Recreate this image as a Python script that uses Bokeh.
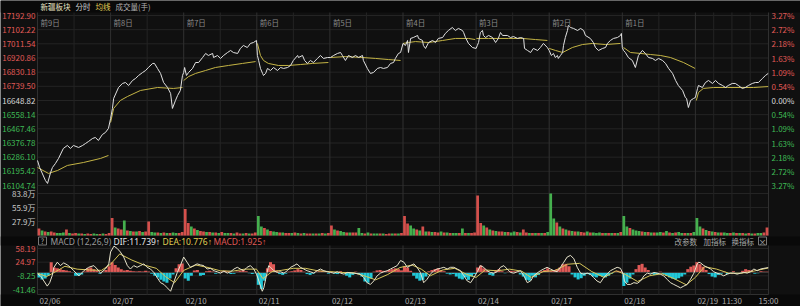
from bokeh.plotting import figure
from bokeh.models import Range1d
from bokeh.core.properties import value
from bokeh.embed import file_html
from bokeh.resources import INLINE

# ---------------- data ----------------
day_dates = ["02/06", "02/07", "02/10", "02/11", "02/12", "02/13", "02/14", "02/17", "02/18", "02/19"]
day_tags = ["前9日", "前8日", "前7日", "前6日", "前5日", "前4日", "前3日", "前2日", "前1日"]
base_price = 16648.82
price_ticks = [17192.90, 17102.22, 17011.54, 16920.86, 16830.18, 16739.50, 16648.82,
               16558.14, 16467.46, 16376.78, 16286.10, 16195.42, 16104.74]
pct_labels = ["3.27%", "2.72%", "2.18%", "1.63%", "1.09%", "0.54%", "0.00%",
              "0.54%", "1.09%", "1.63%", "2.18%", "2.72%", "3.27%"]
vol_ticks = [83.8, 55.9, 27.9]
vol_labels = ["83.8万", "55.9万", "27.9万"]
macd_ticks = [58.19, 24.97, -8.25, -41.46]

# price (minute index over 10 sessions of 240 min)
price_t = [0, 7, 26, 33, 43, 49, 59, 69, 85, 98, 108, 118, 135, 148, 158, 167, 181, 190, 200, 213, 223, 233,
           240, 246, 250, 266, 279, 289, 299, 312, 322, 332, 345, 355, 364, 378, 384, 394, 404, 414, 427, 437, 443, 453, 460, 469, 476,
           480, 483, 489, 496, 509, 519, 529, 542, 552, 561, 575, 578, 591, 601, 611, 624, 634, 643, 657, 666, 676, 689, 699, 709, 719,
           722, 726, 732, 739, 742, 749, 755, 765, 775, 788, 798, 808, 821, 831, 840, 854, 857, 870, 877, 886, 896, 906, 919, 929, 939, 952,
           962, 972, 985, 995, 1001, 1011, 1021, 1034, 1044, 1054, 1067, 1070, 1083, 1093, 1103, 1116, 1126, 1136, 1149, 1159, 1169, 1175, 1185, 1192,
           1200, 1208, 1215, 1218, 1225, 1234, 1248, 1251, 1264, 1267, 1274, 1284, 1297, 1307, 1316, 1330, 1339, 1349, 1362, 1372, 1382, 1395, 1399, 1405, 1415, 1428,
           1440, 1444, 1448, 1454, 1461, 1464, 1471, 1481, 1494, 1504, 1513, 1520, 1527, 1543, 1553, 1563, 1576, 1586, 1596, 1599, 1609, 1619, 1628, 1642, 1651, 1661, 1674,
           1680, 1687, 1694, 1700, 1707, 1710, 1717, 1724, 1727, 1733, 1740, 1743, 1750, 1760, 1773, 1783, 1793, 1799, 1815, 1825, 1832, 1842, 1855, 1865, 1871, 1881, 1891, 1904, 1914, 1917,
           1920, 1924, 1930, 1940, 1953, 1963, 1973, 1986, 1996, 2006, 2019, 2029, 2039, 2052, 2062, 2072, 2085, 2095, 2104, 2118, 2127, 2131, 2137, 2144, 2154,
           2160, 2167, 2170, 2183, 2193, 2203, 2216, 2226, 2236, 2249, 2259, 2268, 2281, 2291, 2301, 2314, 2324, 2334, 2347, 2357, 2367, 2380, 2390, 2399]
price_v = [16265, 16220, 16137, 16118, 16188, 16220, 16246, 16278, 16342, 16361, 16342, 16361, 16348, 16361, 16374, 16386, 16406, 16412, 16393, 16431, 16444, 16470,
           16534, 16598, 16662, 16732, 16758, 16764, 16745, 16777, 16790, 16809, 16828, 16841, 16860, 16886, 16886, 16854, 16822, 16764, 16732, 16694, 16598, 16649, 16681, 16713, 16809,
           16828, 16860, 16809, 16828, 16854, 16892, 16892, 16924, 16950, 16937, 16950, 16924, 16937, 16918, 16937, 16956, 16969, 16956, 16950, 16982, 17001, 16988, 17014, 17020, 17033,
           16937, 16905, 16854, 16822, 16809, 16822, 16854, 16841, 16860, 16841, 16860, 16854, 16860, 16873, 16905, 16937, 16924, 16937, 16905, 16886, 16905, 16892, 16918, 16937, 16918, 16924,
           16924, 16937, 16950, 16956, 16937, 16905, 16937, 16924, 16937, 16924, 16937, 16905, 16854, 16822, 16828, 16854, 16860, 16854, 16860, 16886, 16892, 16918, 16950, 16956,
           17014, 17001, 17033, 16956, 17046, 17052, 17065, 17046, 17033, 17001, 16982, 17020, 17033, 17020, 17046, 17052, 17078, 17097, 17116, 17097, 17110, 17097, 17084, 17052, 17014, 16988,
           16982, 17001, 17020, 17084, 17097, 17065, 17052, 17065, 17052, 17020, 17046, 17084, 17065, 17065, 17052, 17058, 17046, 17052, 17046, 16982, 16969, 16956, 16982, 16969, 16988, 17014, 16988,
           16969, 16937, 16950, 16924, 16937, 16918, 16937, 16956, 17001, 17052, 17097, 17129, 17116, 17110, 17097, 17110, 17097, 17065, 17046, 17020, 16988, 16969, 16982, 16988, 17014, 17033, 17046, 17052, 17065, 17078,
           16988, 16969, 16956, 16924, 16905, 16860, 16937, 16969, 16950, 16924, 16918, 16905, 16918, 16905, 16886, 16854, 16822, 16777, 16745, 16713, 16668, 16662, 16604, 16649, 16662,
           16668, 16726, 16745, 16732, 16764, 16777, 16758, 16777, 16758, 16745, 16732, 16745, 16758, 16758, 16745, 16726, 16732, 16745, 16758, 16764, 16764, 16790, 16809, 16822]

# average price line, one list per session
avg_t = [[0, 36, 66, 98, 151, 207, 233],
         [240, 250, 272, 295, 338, 394, 446, 476],
         [480, 496, 519, 552, 584, 627, 673, 716],
         [722, 732, 742, 758, 791, 824, 863, 903, 955],
         [962, 1011, 1067, 1110, 1152, 1192],
         [1200, 1218, 1241, 1284, 1330, 1372, 1415, 1437],
         [1441, 1481, 1546, 1592, 1635, 1674],
         [1680, 1701, 1724, 1756, 1789, 1822, 1865, 1914],
         [1924, 1947, 1980, 2013, 2045, 2078, 2121, 2159],
         [2163, 2170, 2186, 2219, 2265, 2308, 2351, 2399]]
avg_v = [[16220, 16182, 16201, 16233, 16252, 16278, 16297],
         [16508, 16598, 16649, 16674, 16713, 16732, 16726, 16732],
         [16777, 16802, 16822, 16841, 16860, 16873, 16886, 16898],
         [17014, 16937, 16905, 16886, 16873, 16873, 16879, 16886, 16892],
         [16924, 16930, 16924, 16918, 16911, 16905],
         [17014, 17020, 17026, 17020, 17033, 17046, 17046, 17039],
         [17046, 17046, 17046, 17046, 17039, 17033],
         [16982, 16969, 16956, 16988, 17007, 17014, 17007, 17014],
         [16988, 16956, 16950, 16943, 16937, 16924, 16892, 16854],
         [16649, 16700, 16726, 16732, 16732, 16732, 16732, 16738]]

# volume (万手) in 10-minute bins, 24 per session, with up/down flags
vol_d = [[14, 10, 8, 7, 8, 6, 5, 5, 6, 12, 5, 4, 5, 4, 4, 3, 4, 3, 4, 3, 3, 4, 3, 5],
         [35, 16, 14, 12, 30, 10, 9, 8, 8, 9, 7, 8, 28, 7, 6, 6, 5, 6, 5, 5, 6, 5, 5, 7],
         [53, 25, 18, 14, 11, 9, 8, 7, 7, 6, 6, 5, 7, 5, 5, 5, 4, 6, 4, 4, 5, 4, 4, 6],
         [39, 18, 15, 12, 9, 8, 7, 6, 6, 5, 5, 5, 6, 5, 4, 5, 4, 4, 4, 4, 4, 5, 4, 5],
         [20, 12, 10, 9, 7, 6, 6, 6, 6, 15, 5, 4, 6, 4, 4, 4, 4, 4, 3, 4, 4, 4, 4, 5],
         [39, 24, 20, 14, 12, 10, 18, 8, 8, 7, 7, 6, 8, 6, 6, 5, 5, 5, 5, 14, 5, 5, 5, 6],
         [80, 25, 20, 16, 12, 10, 9, 8, 8, 7, 7, 6, 8, 7, 6, 12, 6, 5, 5, 5, 5, 5, 5, 7],
         [84, 34, 26, 18, 14, 12, 10, 9, 8, 8, 7, 6, 8, 6, 6, 5, 6, 5, 5, 5, 5, 5, 5, 7],
         [39, 18, 15, 12, 10, 9, 8, 7, 7, 6, 6, 6, 7, 6, 9, 6, 5, 6, 7, 5, 5, 5, 5, 7],
         [35, 18, 14, 11, 9, 8, 7, 6, 6, 6, 5, 5, 6, 5, 5, 5, 4, 5, 4, 4, 5, 5, 6, 16]]
vol_dir = ["rgrgrrgggrgrrgrgrrggrgrr",
           "rgrrgrgrgrgrrggrgrgrggrr",
           "rrgrgrrgrgrgrggrgrrgrgrr",
           "ggrgrggrgrrgrgrgrrgrgrgr",
           "rgrggrgrrggrgrggrgrrgrgr",
           "rrggrgrgrgrrgrgrggrgrgrr",
           "rrgrgrgrrgrggrgrrgrgrgrg",
           "ggrgrgrgrgrrgrgggrgrgrgr",
           "ggrgggrgrgrggrgrgrggrgrg",
           "ggrgrgrgrggrgrgrgrgrggrr"]

# MACD histogram in 10-minute bins, 24 per session
macd_d = [[-12, -17, -15, -8, 25, 12, 10, 8, 6, 5, 3, 0, -8, -8, -5, 2, 10, 12, 8, 4, -3, 2, 6, 15],
          [25, 18, 12, 8, 5, 6, 4, 3, 2, 3, 2, 4, 2, -3, -8, -12, -18, -22, -25, -15, -5, 10, 20, 22],
          [-15, -20, -8, 5, 6, -8, -6, 3, 4, 2, -3, -2, 2, 4, 3, -4, -3, 2, 4, 6, 3, -2, -4, -2],
          [-30, -40, -20, 10, 25, 20, 5, -4, -6, -3, 2, 3, 5, 8, 6, 2, -4, -6, -3, 2, 3, 4, 2, -3],
          [2, -3, -4, 3, -2, -8, -12, -6, 2, -4, -10, -22, -25, -15, 2, 5, 6, 4, 3, 6, 8, 10, 8, 5],
          [15, 12, 4, -8, -15, -20, -18, -10, 3, 6, 8, 10, 6, 3, -3, -5, -4, -10, -15, -17, -12, -18, -10, -4],
          [12, 17, 10, 4, -6, -8, 5, 8, 3, -2, 2, 4, 3, 2, -5, -10, -18, -20, -8, -12, -6, 3, 6, 10],
          [4, 6, 8, 12, 20, 21, 15, -5, -12, -17, -14, -8, -4, -6, -10, -12, -8, -10, -12, -8, -3, 2, 4, 3],
          [-33, -25, -15, -5, 8, 18, 21, 12, 6, -3, -6, -5, 2, -4, -8, -12, -15, -17, -14, -10, -5, 8, 14, 17],
          [25, 20, 14, 6, -4, -10, -12, -6, -3, 2, -4, -2, 3, -3, -2, 4, 8, 6, 5, -3, -2, 3, 2, 2]]

dif_t = [1, 10, 21, 32, 40, 48, 54, 65, 75, 86, 98, 108, 119, 136, 152, 168, 185, 196, 207, 223, 234,
         240, 251, 262, 272, 283, 295, 305, 316, 327, 338, 349, 360, 371, 382, 393, 404, 415, 426, 437, 447, 459, 469,
         480, 491, 502, 513, 524, 535, 546, 557, 568, 579, 590, 601, 612, 623, 634, 645, 656, 666, 677, 688, 699, 710, 719,
         727, 732, 738, 743, 749, 754, 759, 765, 776, 787, 798, 809, 820, 831, 842, 852, 863, 874, 885, 896, 907, 918, 929, 940, 951,
         962, 973, 984, 995, 1006, 1017, 1038, 1060, 1071, 1082, 1093, 1104, 1115, 1126, 1137, 1148, 1159, 1170, 1181, 1192,
         1203, 1214, 1225, 1236, 1246, 1257, 1268, 1279, 1290, 1301, 1312, 1323, 1334, 1345, 1356, 1367, 1378, 1389, 1400, 1411, 1422, 1433,
         1444, 1454, 1465, 1476, 1487, 1498, 1509, 1520, 1531, 1542, 1553, 1564, 1575, 1586, 1597, 1608, 1619, 1629, 1640, 1651, 1662, 1673,
         1684, 1695, 1706, 1717, 1728, 1739, 1750, 1761, 1772, 1783, 1793, 1805, 1815, 1826, 1837, 1848, 1859, 1870, 1881, 1892, 1903, 1914,
         1923, 1927, 1936, 1947, 1958, 1969, 1980, 1991, 2002, 2013, 2024, 2035, 2045, 2056, 2067, 2078, 2089, 2100, 2111, 2122, 2133, 2144, 2155,
         2166, 2171, 2177, 2188, 2199, 2210, 2220, 2231, 2242, 2253, 2264, 2275, 2286, 2297, 2308, 2319, 2330, 2341, 2352, 2363, 2374, 2385, 2399]
dif_v = [-4.2, -8.3, -20.8, -33.2, -24.9, -8.3, 12.5, 24.9, 16.6, 23.2, 18.3, 12.5, 4.2, -8.3, 4.2, 12.5, 16.6, 8.3, -1.7, 8.3, 20.8,
         49.8, 63.9, 58.1, 49.8, 37.4, 16.6, 8.3, 16.6, 12.5, 16.6, 20.8, 12.5, 8.3, 0, -12.5, -24.9, -29.1, -37.4, -45.7, -24.9, 0, 16.6,
         37.4, 24.9, 12.5, 16.6, 20.8, 18.3, 16.6, 8.3, 10, 4.2, 1.7, -1.7, 3.3, -1.7, 1.7, 8.3, 12.5, 8.3, 4.2, 12.5, 16.6, 8.3, -4.2,
         -20.8, -33.2, -45.7, -37.4, -16.6, 0, 16.6, 12.5, 4.2, 0, 1.7, -1.7, 4.2, 12.5, 16.6, 20.8, 12.5, 8.3, 4.2, 1.7, -1.7, 4.2, 8.3, 4.2, 1.7,
         0, -1.7, 1.7, -1.7, -4.2, 0, -1.7, -4.2, -12.5, -24.9, -29.1, -20.8, -8.3, -1.7, 1.7, 4.2, 8.3, 12.5, 16.6, 29.1,
         24.9, 12.5, 16.6, 20.8, 12.5, 0, -24.9, -16.6, -4.2, 4.2, 8.3, 10, 12.5, 8.3, 12.5, 12.5, 8.3, 4.2, -8.3, -20.8, -24.9, -12.5,
         1.7, 16.6, 12.5, 4.2, 0, -1.7, 1.7, 12.5, 16.6, 8.3, 0, -1.7, 1.7, 4.2, -8.3, -24.9, -20.8, -8.3, -1.7, 4.2, 8.3, 12.5,
         8.3, 4.2, 1.7, 12.5, 24.9, 37.4, 41.5, 33.2, 12.5, -1.7, -4.2, -1.7, -4.2, -12.5, -20.8, -24.9, -12.5, -4.2, 4.2, 8.3, 12.5, 10,
         -4.2, -20.8, -29.1, -29.1, -24.9, -26.6, -20.8, -8.3, -1.7, -4.2, 0, -1.7, -4.2, -8.3, -16.6, -24.9, -29.1, -33.2, -37.4, -33.2, -29.1, -16.6, -1.7,
         20.8, 24.9, 23.2, 16.6, 12.5, 8.3, 1.7, -1.7, -4.2, -8.3, -4.2, -1.7, -1.7, -4.2, -1.7, 0, -1.7, 1.7, 8.3, 4.2, 8.3, 10, 11.7]
dea_t = [0, 30, 60, 90, 130, 170, 210, 240, 270, 310, 350, 390, 420, 450, 480, 520, 560, 600, 640, 680, 719,
         740, 770, 800, 840, 880, 920, 960, 1000, 1040, 1080, 1110, 1150, 1190, 1230, 1260, 1290, 1330, 1370, 1410,
         1440, 1470, 1510, 1550, 1590, 1620, 1660, 1700, 1740, 1780, 1820, 1860, 1900, 1930, 1970, 2010, 2050, 2090,
         2130, 2160, 2190, 2230, 2270, 2310, 2350, 2399]
dea_v = [-2, -10, 2, 15, 8, 6, 5, 20, 45, 30, 18, 10, -10, -25, 5, 18, 12, 4, 3, 8, 8,
         -15, 2, 5, 10, 10, 4, 2, 0, -1, -10, -18, -5, 12, 18, 8, -8, 6, 10, -5,
         -12, 6, 4, 8, 3, -12, 2, 5, 20, 22, 2, -12, 4, -5, -22, -8, -3, -15,
         -30, -12, 14, 8, -2, -2, 3, 10.8]

# ---------------- geometry (layout only) ----------------
W, H = 800, 306
X0, X1 = 37.0, 768.0
NMIN = 2400
PXM = (X1 - X0) / NMIN


def mx(px):
    return (px - X0) / PXM


# price axis: first tick at y=15px, last at y=185px
ppp = (price_ticks[0] - price_ticks[-1]) / 170.0
price_range = Range1d(start=price_ticks[-1] - (H - 185) * ppp, end=price_ticks[0] + 15 * ppp)
# volume axis: zero at 235px, top tick at 193px
vpp = vol_ticks[0] / 42.0
vol_range = Range1d(start=-(H - 235) * vpp, end=235 * vpp)
# MACD axis: first tick at 248px, last at 289px
mpp = (macd_ticks[0] - macd_ticks[-1]) / 41.0
mzero = 248 + macd_ticks[0] / mpp
macd_range = Range1d(start=-(H - mzero) * mpp, end=mzero * mpp)

BG = "#101010"
GRID = "#242424"
DAYGRID = "#303030"
RED = "#e05a57"
GREEN = "#3fba55"
VRED = "#d4504c"
VGREEN = "#45b04e"
CYAN = "#22c8d8"
YEL = "#d6c65a"
FONT = value("Noto Sans CJK SC")
LFONT = value("Noto Sans, Liberation Sans, Noto Sans CJK SC")

p = figure(width=W, height=H, x_range=Range1d(mx(0), mx(W)), y_range=Range1d(H, 0),
           output_backend="svg", toolbar_location=None, min_border=0,
           x_axis_location=None, y_axis_location=None)
p.extra_y_ranges = {"price": price_range, "vol": vol_range, "macd": macd_range}
p.grid.visible = False
p.outline_line_color = None
p.background_fill_color = BG
p.border_fill_color = BG

# darker strips
p.quad(left=mx(0), right=mx(W), top=0, bottom=12, fill_color="#090909", line_color=None)
p.quad(left=mx(0), right=mx(W), top=236, bottom=245, fill_color="#090909", line_color=None)
p.quad(left=mx(0), right=mx(W), top=294, bottom=H, fill_color="#090909", line_color=None)

# horizontal grid
p.segment(x0=[0] * len(price_ticks), x1=[NMIN] * len(price_ticks), y0=price_ticks, y1=price_ticks,
          y_range_name="price", line_color=GRID, line_width=1)
p.segment(x0=[0] * 4, x1=[NMIN] * 4, y0=vol_ticks + [0], y1=vol_ticks + [0],
          y_range_name="vol", line_color=GRID, line_width=1)
p.segment(x0=[0] * 4, x1=[NMIN] * 4, y0=macd_ticks, y1=macd_ticks,
          y_range_name="macd", line_color=GRID, line_width=1)
p.segment(x0=[0], x1=[NMIN], y0=[294], y1=[294], line_color=DAYGRID, line_width=1)

# vertical grid
day_x = [240 * k for k in range(11)]
half_x = [240 * k + 120 for k in range(9)] + [2220, 2280, 2340]
for xs, col in ((half_x, GRID), (day_x, DAYGRID)):
    p.segment(x0=xs, x1=xs, y0=[12] * len(xs), y1=[235] * len(xs), line_color=col, line_width=1)
    p.segment(x0=xs, x1=xs, y0=[245] * len(xs), y1=[294] * len(xs), line_color=col, line_width=1)

# volume bars
vx, vtop, vcol = [], [], []
for d in range(10):
    for k in range(24):
        vx.append(240 * d + 10 * k + 5)
        vtop.append(vol_d[d][k])
        vcol.append(VRED if vol_dir[d][k] == "r" else VGREEN)
p.vbar(x=vx, width=9, top=vtop, bottom=0, y_range_name="vol", fill_color=vcol, line_color=None)

# MACD histogram
mxs, mtop, mcol = [], [], []
for d in range(10):
    for k in range(24):
        mxs.append(240 * d + 10 * k + 5)
        mtop.append(macd_d[d][k])
        mcol.append(RED if macd_d[d][k] > 0 else CYAN)
p.vbar(x=mxs, width=10, top=mtop, bottom=0, y_range_name="macd", fill_color=mcol, line_color=None)
p.segment(x0=[0], x1=[NMIN], y0=[0], y1=[0], y_range_name="macd", line_color="#3a3a3a", line_width=1)
p.line(dea_t, dea_v, y_range_name="macd", line_color=YEL, line_width=1)
p.line(dif_t, dif_v, y_range_name="macd", line_color="#e8e4cc", line_width=1)

# price and average lines
p.multi_line(xs=avg_t, ys=avg_v, y_range_name="price", line_color="#c4b445", line_width=1)
p.line(price_t, price_v, y_range_name="price", line_color="#e2e2e2", line_width=1)

# ---------------- texts ----------------
pcol = [RED if v > base_price + 1 else (GREEN if v < base_price - 1 else "#d8d8d8") for v in price_ticks]
p.text(x=[mx(35)] * 13, y=price_ticks, text=[f"{v:.2f}" for v in price_ticks], y_range_name="price",
       text_font=FONT, text_font_size="8px", text_align="right", text_baseline="middle", text_color=pcol)
p.text(x=[mx(771)] * 13, y=price_ticks, text=pct_labels, y_range_name="price",
       text_font=FONT, text_font_size="8px", text_align="left", text_baseline="middle", text_color=pcol)
p.text(x=[mx(35)] * 3, y=vol_ticks, text=vol_labels, y_range_name="vol",
       text_font=FONT, text_font_size="8px", text_align="right", text_baseline="middle", text_color="#c8c8c8")
p.text(x=[mx(35)] * 4, y=macd_ticks, text=[f"{v:.2f}" for v in macd_ticks], y_range_name="macd",
       text_font=FONT, text_font_size="8px", text_align="right", text_baseline="middle",
       text_color=[RED if v > 0 else GREEN for v in macd_ticks])

# header
p.text(x=[mx(40), mx(75), mx(95), mx(115)], y=[6] * 4, text=["新疆板块", "分时", "均线", "成交量(手)"],
       text_font=FONT, text_font_size="7.5px", text_baseline="middle",
       text_color=["#e8e2c2", "#cfcfcf", "#e0cf55", "#b4b4b4"])
p.text(x=[240 * k + mx(40) for k in range(9)], y=[22] * 9, text=day_tags,
       text_font=FONT, text_font_size="7.5px", text_baseline="middle", text_color="#8a8a8a")

# MACD header
p.rect(x=[mx(42)], y=[240.5], width=[8 / PXM], height=[8], fill_color=None, line_color="#777777")
p.text(x=[mx(42)], y=[240.5], text=["?"], text_font=FONT, text_font_size="7px",
       text_align="center", text_baseline="middle", text_color="#b0b0b0")
p.text(x=[mx(50)], y=[240.5], text=["MACD (12,26,9)"],
       text_font=LFONT, text_font_size="8.5px", text_baseline="middle", text_color="#9a9a9a")
p.text(x=[mx(113), mx(162), mx(213)], y=[240.5] * 3,
       text=["DIF:11.739↑", "DEA:10.776↑", "MACD:1.925↑"],
       text_font=LFONT, text_font_size="8.5px", text_baseline="middle",
       text_color=["#e6e6e6", "#e0cf55", RED])
p.text(x=[mx(674), mx(703), mx(731)], y=[240.5] * 3, text=["改参数", "加指标", "换指标"],
       text_font=FONT, text_font_size="7.5px", text_baseline="middle", text_color="#a8a8a8")
p.rect(x=[mx(762)], y=[240.5], width=[8 / PXM], height=[8], fill_color=None, line_color="#777777")
p.text(x=[mx(762)], y=[240.5], text=["×"], text_font=FONT, text_font_size="8px",
       text_align="center", text_baseline="middle", text_color="#b0b0b0")

# x labels
p.text(x=[240 * k + mx(39) for k in range(10)], y=[300] * 10, text=day_dates,
       text_font=FONT, text_font_size="8px", text_baseline="middle", text_color="#a8a8a8")
p.text(x=[2280, 2400], y=[300, 300], text=["11:30", "15:00"],
       text_font=FONT, text_font_size="8px", text_align="center", text_baseline="middle", text_color="#a8a8a8")

open("out.html", "w").write(file_html(p, INLINE))
